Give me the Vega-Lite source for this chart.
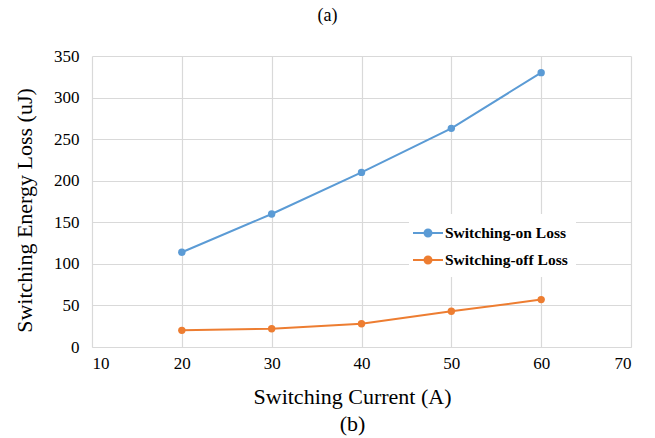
{
  "$schema": "https://vega.github.io/schema/vega-lite/v6.json",
  "width": 539,
  "height": 291,
  "autosize": {"type": "none"},
  "padding": {"left": 92, "top": 56, "right": 24, "bottom": 91},
  "background": "white",
  "title": {"text": "(a)", "font": "Liberation Serif", "fontSize": 18, "fontWeight": "normal", "color": "#000", "anchor": "middle", "dx": -34, "offset": 22},
  "config": {
    "view": {"stroke": null}
  },
  "data": {
    "values": [
      {"current": 20, "loss": 114, "series": "Switching-on Loss"},
      {"current": 30, "loss": 160, "series": "Switching-on Loss"},
      {"current": 40, "loss": 210, "series": "Switching-on Loss"},
      {"current": 50, "loss": 263, "series": "Switching-on Loss"},
      {"current": 60, "loss": 330, "series": "Switching-on Loss"},
      {"current": 20, "loss": 20, "series": "Switching-off Loss"},
      {"current": 30, "loss": 22, "series": "Switching-off Loss"},
      {"current": 40, "loss": 28, "series": "Switching-off Loss"},
      {"current": 50, "loss": 43, "series": "Switching-off Loss"},
      {"current": 60, "loss": 57, "series": "Switching-off Loss"}
    ]
  },
  "mark": {"type": "line", "strokeWidth": 2, "point": {"filled": true, "size": 55}},
  "encoding": {
    "x": {"field": "current", "type": "quantitative", "scale": {"domain": [10, 70], "nice": false, "zero": false},
      "axis": {"values": [10, 20, 30, 40, 50, 60, 70], "title": ["Switching Current (A)", "(b)"], "titleLineHeight": 27, "labelPadding": 8, "titlePadding": 15, "titleX": 260, "domain": true,
        "labelFont": "Liberation Serif", "titleFont": "Liberation Serif", "labelFontSize": 17, "titleFontSize": 22, "titleFontWeight": "normal", "labelColor": "#000", "titleColor": "#000", "gridColor": "#d9d9d9", "gridWidth": 1.2, "domainColor": "#d9d9d9", "ticks": false}},
    "y": {"field": "loss", "type": "quantitative", "scale": {"domain": [0, 350], "nice": false},
      "axis": {"values": [0, 50, 100, 150, 200, 250, 300, 350], "title": "Switching Energy Loss (uJ)", "labelPadding": 13, "titlePadding": 17, "titleY": 154, "domain": false,
        "labelFont": "Liberation Serif", "titleFont": "Liberation Serif", "labelFontSize": 17, "titleFontSize": 22, "titleFontWeight": "normal", "labelColor": "#000", "titleColor": "#000", "gridColor": "#d9d9d9", "gridWidth": 1.2, "ticks": false}},
    "color": {"field": "series", "type": "nominal", "sort": ["Switching-on Loss", "Switching-off Loss"],
      "scale": {"domain": ["Switching-on Loss", "Switching-off Loss"], "range": ["#5B9BD5", "#ED7D31"]},
      "legend": {"title": null, "orient": "none", "legendX": 317, "legendY": 158, "fillColor": "white", "padding": 8,
        "labelFont": "Liberation Serif", "labelFontSize": 15.5, "labelFontWeight": "bold", "labelColor": "#000",
        "symbolType": "M-1.5,0L1.5,0M-0.35,0A0.35,0.35 0 1,1 0.35,0A0.35,0.35 0 1,1 -0.35,0", "symbolSize": 400, "symbolStrokeWidth": 2,
        "rowPadding": 7, "labelOffset": 6,
        "encode": {"symbols": {"update": {"fill": {"scale": "color", "field": "value"}, "fillOpacity": {"value": 1}}}}}
    }
  }
}
